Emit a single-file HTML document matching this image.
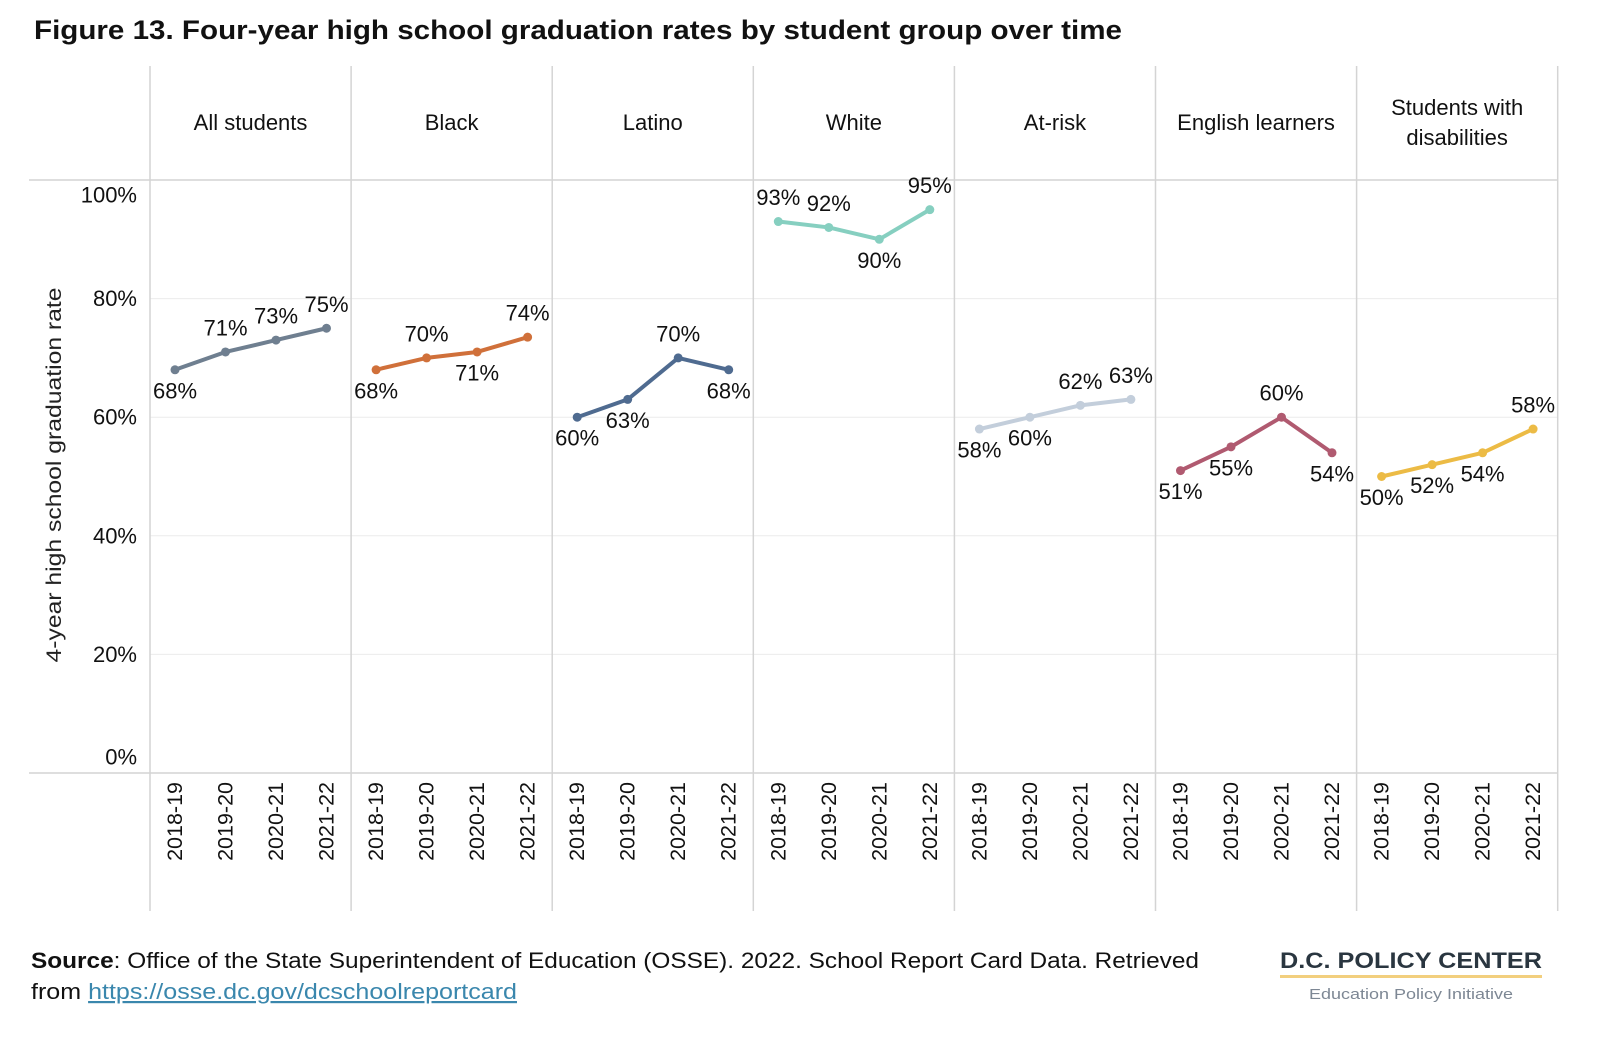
<!DOCTYPE html>
<html><head><meta charset="utf-8"><title>Figure 13</title>
<style>
html,body{margin:0;padding:0;background:#fff;}
svg{display:block;font-family:"Liberation Sans",Arial,sans-serif;}
</style></head>
<body>
<svg id="chart" width="1600" height="1052" viewBox="0 0 1600 1052" xmlns="http://www.w3.org/2000/svg">
<rect width="1600" height="1052" fill="#fff"/>
<text x="34" y="39" font-size="27" font-weight="bold" fill="#111" textLength="1088" lengthAdjust="spacingAndGlyphs">Figure 13. Four-year high school graduation rates by student group over time</text>
<text transform="translate(61,475) rotate(-90)" text-anchor="middle" font-size="21" fill="#222" textLength="375" lengthAdjust="spacingAndGlyphs">4-year high school graduation rate</text>
<g id="grid"></g>
<g id="panels"></g>
<g id="marks"></g>
<text x="31" y="968" font-size="22" fill="#111" textLength="1168" lengthAdjust="spacingAndGlyphs"><tspan font-weight="bold">Source</tspan>: Office of the State Superintendent of Education (OSSE). 2022. School Report Card Data. Retrieved</text>
<text x="31" y="999" font-size="22" fill="#111" textLength="486" lengthAdjust="spacingAndGlyphs">from <tspan fill="#3a87ad" text-decoration="underline">https://osse.dc.gov/dcschoolreportcard</tspan></text>
<text x="1280" y="968" font-size="22" font-weight="bold" fill="#2a3640" textLength="262" lengthAdjust="spacingAndGlyphs">D.C. POLICY CENTER</text>
<rect x="1280" y="975" width="262" height="3" fill="#f2cf7e"/>
<text x="1411" y="999" font-size="15" fill="#7d8794" text-anchor="middle" textLength="204" lengthAdjust="spacingAndGlyphs">Education Policy Initiative</text>
</svg>
<script>
const groups = ["All students","Black","Latino","White","At-risk","English learners","Students with disabilities"];
const years = ["2018-19","2019-20","2020-21","2021-22"];
const allStudents = [68,71,73,75];
const black = [68,70,71,73.5];
const latino = [60,63,70,68];
const white = [93,92,90,95];
const atRisk = [58,60,62,63];
const englishLearners = [51,55,60,54];
const disabilities = [50,52,54,58];
const yTicks = [0,20,40,60,80,100];

const series = [allStudents,black,latino,white,atRisk,englishLearners,disabilities];
const colors = ["#6f7f90","#d0703a","#4f6b90","#86cfc0","#c3cedb","#b05a70","#ecbb45"];
const labelPos = [["b","a","a","a"],["b","a","b","a"],["b","b","a","b"],["a","a","b","a"],["b","b","a","a"],["b","b","a","b"],["b","b","b","a"]];

const NS="http://www.w3.org/2000/svg";
const panelLeft=150, panelW=201.1, plotTop=180, plotBottom=773;
function yScale(v){return plotBottom-(plotBottom-plotTop)*v/100;}
function xScale(g,i){return panelLeft+g*panelW+25+i*50.5;}
function mk(tag,attrs,parent){const e=document.createElementNS(NS,tag);for(const k in attrs)e.setAttribute(k,attrs[k]);parent.appendChild(e);return e;}

const grid=document.getElementById('grid');
yTicks.forEach((t)=>{
  const y=yScale(t);
  if(t>0&&t<100){
    const l=mk('line',{x1:panelLeft,x2:1557,y1:y,y2:y,stroke:'#ececec','stroke-width':1},grid);
    
    
  }
  let ly=y; if(t===100)ly=y+15; if(t===0)ly=y-16;
  const tx=mk('text',{x:137,y:ly,'text-anchor':'end','dominant-baseline':'central','font-size':22,fill:'#111'},grid);
  tx.textContent=t+'%';
  
  
});
const hl1=mk('line',{x1:29,x2:1557,y1:plotTop,y2:plotTop,stroke:'#d4d4d4','stroke-width':1.5},grid);


const hl2=mk('line',{x1:29,x2:1557,y1:plotBottom,y2:plotBottom,stroke:'#d4d4d4','stroke-width':1.5},grid);



const panels=document.getElementById('panels');
for(let g=0;g<=groups.length;g++){
  const x=panelLeft+g*panelW;
  const l=mk('line',{x1:x,x2:x,y1:66,y2:911,stroke:'#d4d4d4','stroke-width':1.5},panels);
  
  
}
groups.forEach((name,g)=>{
  const cx=panelLeft+g*panelW+panelW/2;
  const t=mk('text',{x:cx,'text-anchor':'middle','font-size':22,fill:'#111'},panels);
  if(name==="Students with disabilities"){
    t.setAttribute('y',115);
    mk('tspan',{x:cx},t).textContent="Students with";
    mk('tspan',{x:cx,dy:30},t).textContent="disabilities";
  } else { t.setAttribute('y',130); t.textContent=name; }
  
  
  years.forEach((yr,i)=>{
    const x=xScale(g,i);
    const yt=mk('text',{transform:`translate(${x},782) rotate(-90)`,'text-anchor':'end','dominant-baseline':'central','font-size':21.5,fill:'#111'},panels);
    yt.textContent=yr;
    
    
  });
});

const marks=document.getElementById('marks');
series.forEach((vals,g)=>{
  const pts=vals.map((v,i)=>xScale(g,i)+','+yScale(v)).join(' ');
  const pl=mk('polyline',{points:pts,fill:'none',stroke:colors[g],'stroke-width':4,'stroke-linejoin':'round'},marks);
  
  
  vals.forEach((v,i)=>{
    const c=mk('circle',{cx:xScale(g,i),cy:yScale(v),r:4.5,fill:colors[g]},marks);
    
    
    const above=labelPos[g][i]==='a';
    const lt=mk('text',{x:xScale(g,i),y:yScale(v)+(above?-24:21),'text-anchor':'middle','dominant-baseline':'central','font-size':22,fill:'#111'},marks);
    lt.textContent=Math.round(v)+'%';
    
    
  });
});
</script>
</body></html>
